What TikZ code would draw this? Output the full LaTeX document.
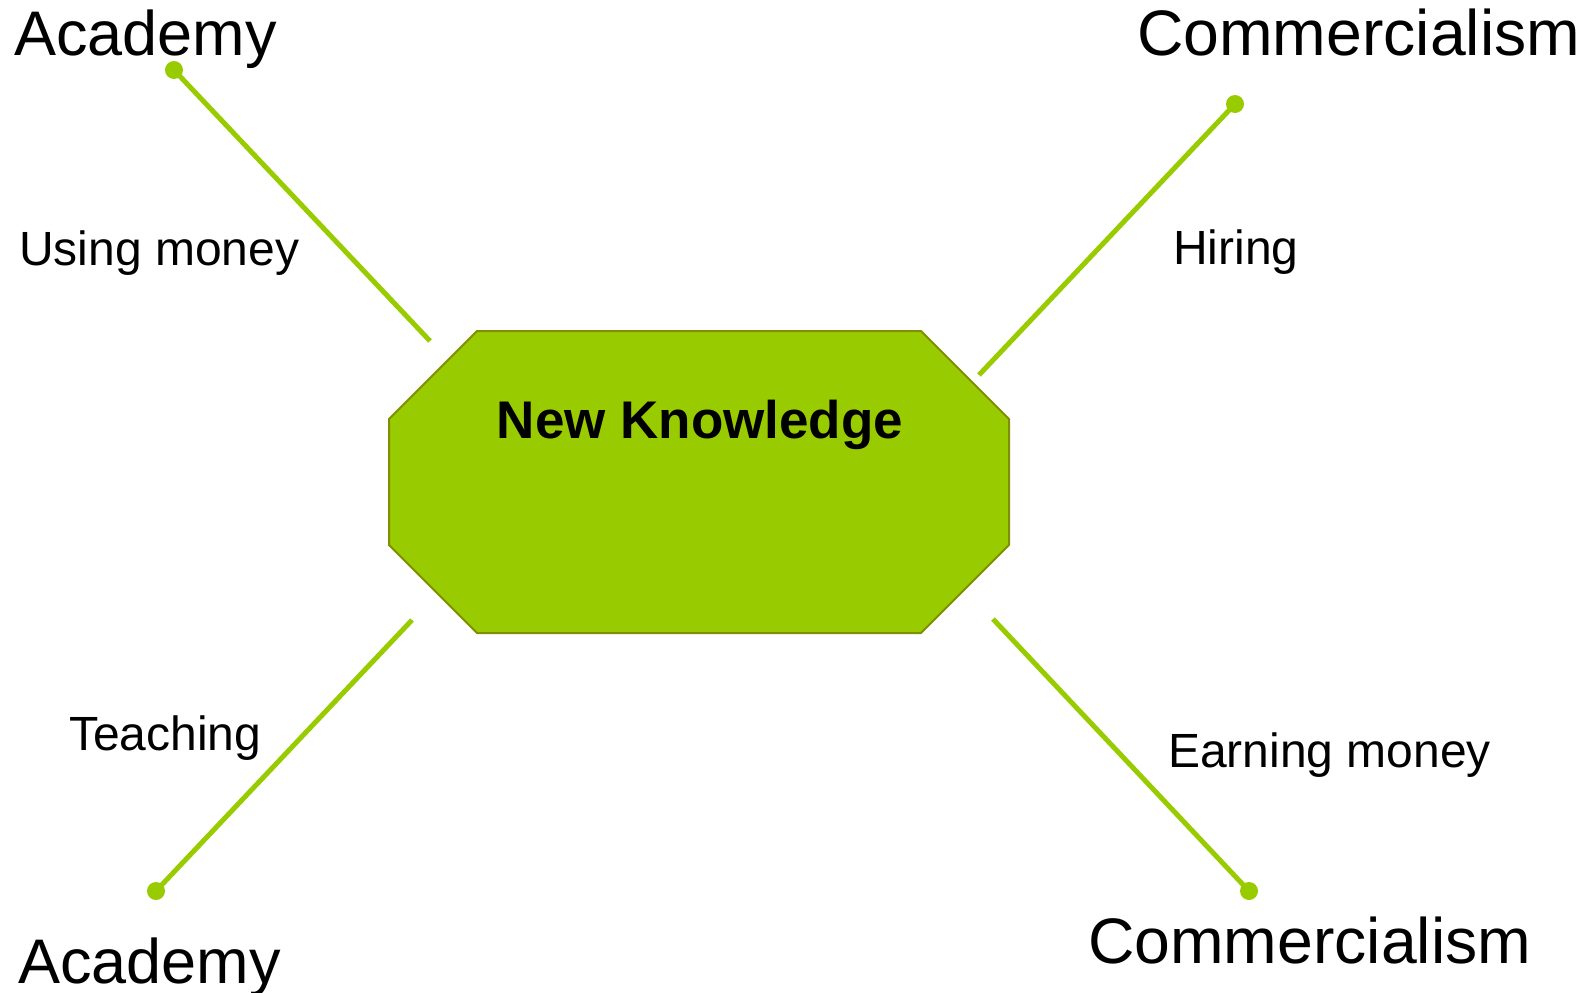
\documentclass[tikz,border=0pt]{standalone}
\usepackage{fontspec}
\setmainfont{Liberation Sans}
\definecolor{lime}{HTML}{99CC00}
\definecolor{olive}{HTML}{7F8F00}
\begin{document}
\begin{tikzpicture}[x=1pt,y=-1pt,
  bigtxt/.style={anchor=base west,inner sep=0pt,font=\fontsize{64.3}{70}\selectfont},
  acadtxt/.style={anchor=base west,inner sep=0pt,font=\fontsize{63}{70}\selectfont},
  smalltxt/.style={anchor=base west,inner sep=0pt,font=\fontsize{48}{54}\selectfont},
  link/.style={draw=lime,line width=5pt},
  dotend/.style={circle,fill=lime,inner sep=0pt,minimum size=18pt}]
\useasboundingbox (0,0) rectangle (1593,993);
% octagon
\fill[lime,draw=olive,line width=2pt]
  (477,331) -- (921,331) -- (1009,419) -- (1009,545) -- (921,633) -- (477,633) -- (389,545) -- (389,419) -- cycle;
\node[anchor=base,inner sep=0pt,font=\fontsize{53}{58}\selectfont\bfseries] (nk) at (700,438) {New Knowledge};
% labels
\node[acadtxt] (acadT) at (14,55) {Academy};
\node[bigtxt] (commT) at (1137,55) {Commercialism};
\node[acadtxt] (acadB) at (18,983) {Academy};
\node[bigtxt] (commB) at (1088,963) {Commercialism};
\node[smalltxt] (using) at (19,265) {Using money};
\node[smalltxt] (hiring) at (1173,264) {Hiring};
\node[smalltxt] (teach) at (69,750) {Teaching};
\node[smalltxt] (earn) at (1168,767) {Earning money};
% connectors
\node[dotend] (d1) at (174,70) {};
\node[dotend] (d2) at (1235,104) {};
\node[dotend] (d3) at (156,891) {};
\node[dotend] (d4) at (1249,891) {};
\coordinate (e1) at (430,341);
\coordinate (e2) at (979,375);
\coordinate (e3) at (412,620);
\coordinate (e4) at (993,619);
\draw[link] (d1.center) -- (e1);
\draw[link] (d2.center) -- (e2);
\draw[link] (d3.center) -- (e3);
\draw[link] (d4.center) -- (e4);
\end{tikzpicture}
\end{document}
